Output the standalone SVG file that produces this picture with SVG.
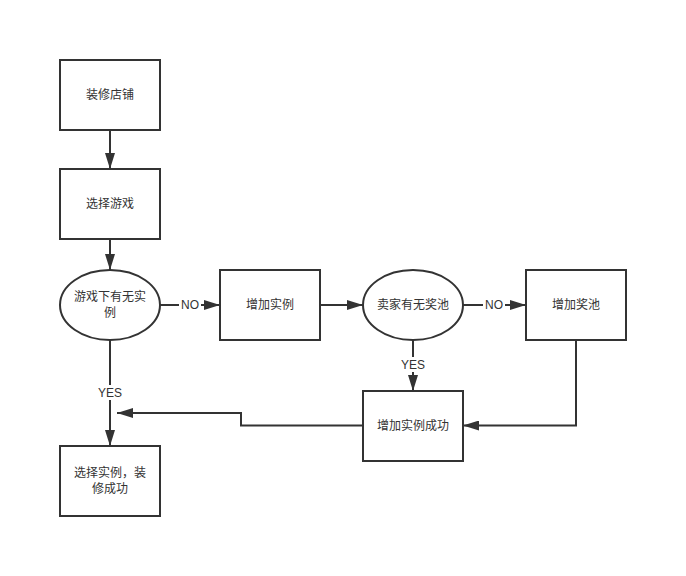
<svg xmlns="http://www.w3.org/2000/svg" width="686" height="576" viewBox="0 0 686 576">
<style>
.n{fill:#fff;stroke:#333;stroke-width:2}
.t{font-family:"Liberation Sans","Noto Sans CJK SC",sans-serif;font-size:12px;fill:#333;text-anchor:middle}
.c{fill:none;stroke:#333;stroke-width:2}
.lb{fill:#fff}
</style>
<defs>
<marker id="a" markerWidth="10" markerHeight="8" refX="10" refY="4" orient="auto" markerUnits="userSpaceOnUse">
<path d="M0,0 L10,4 L0,8 Z" fill="#333"/>
</marker>
<marker id="b" markerWidth="16" markerHeight="10" refX="16" refY="5" orient="auto" markerUnits="userSpaceOnUse">
<path d="M0,0 L16,5 L0,10 Z" fill="#333"/>
</marker>
</defs>
<rect width="686" height="576" fill="#fff"/>
<g id="connectors">
<path class="c" d="M110,130 V169" marker-end="url(#b)"/>
<path class="c" d="M110,239 V270" marker-end="url(#b)"/>
<path class="c" d="M160,305 H220" marker-end="url(#b)"/>
<rect class="lb" x="179" y="297" width="22" height="15"/>
<text class="t" x="190" y="309">NO</text>
<path class="c" d="M320,305 H363" marker-end="url(#b)"/>
<path class="c" d="M463,305 H526" marker-end="url(#b)"/>
<rect class="lb" x="483" y="297" width="22" height="15"/>
<text class="t" x="494" y="309">NO</text>
<path class="c" d="M413,340 V391" marker-end="url(#b)"/>
<rect class="lb" x="399" y="357" width="28" height="15"/>
<text class="t" x="413" y="369">YES</text>
<path class="c" d="M110,340 V446" marker-end="url(#b)"/>
<rect class="lb" x="96" y="385" width="28" height="15"/>
<text class="t" x="110" y="397">YES</text>
<path class="c" d="M576,340 V425.5 H463" marker-end="url(#b)" stroke="#444"/>
<path class="c" d="M363,425.5 H241 V413 H117" marker-end="url(#b)"/>
</g>
<g id="n1"><rect class="n" x="60" y="60" width="100" height="70"/><text class="t" x="110" y="99">装修店铺</text></g>
<g id="n2"><rect class="n" x="60" y="169" width="100" height="70"/><text class="t" x="110" y="208">选择游戏</text></g>
<g id="n3"><ellipse class="n" cx="110" cy="305" rx="50" ry="35"/><text class="t" x="110" y="301">游戏下有无实</text><text class="t" x="110" y="317">例</text></g>
<g id="n4"><rect class="n" x="220" y="270" width="100" height="70"/><text class="t" x="270" y="309">增加实例</text></g>
<g id="n5"><ellipse class="n" cx="413" cy="305" rx="50" ry="35"/><text class="t" x="413" y="309">卖家有无奖池</text></g>
<g id="n6"><rect class="n" x="526" y="270" width="100" height="70"/><text class="t" x="576" y="309">增加奖池</text></g>
<g id="n7"><rect class="n" x="363" y="391" width="100" height="70"/><text class="t" x="413" y="430">增加实例成功</text></g>
<g id="n8"><rect class="n" x="60" y="446" width="100" height="70"/><text class="t" x="110" y="477">选择实例，装</text><text class="t" x="110" y="493">修成功</text></g>
</svg>
